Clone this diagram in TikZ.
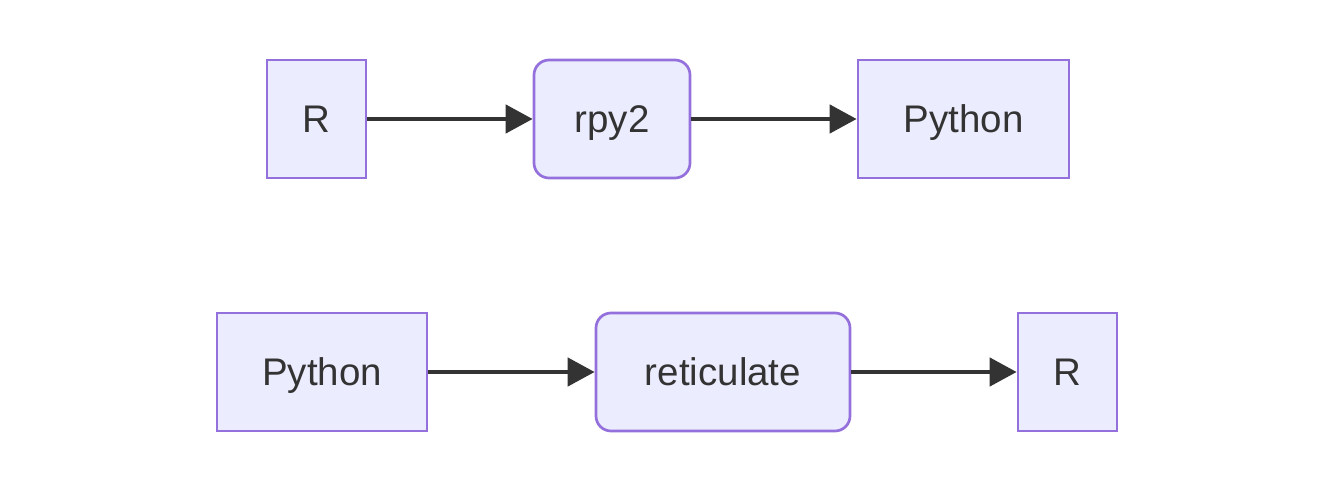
\documentclass[tikz,border=0pt]{standalone}
\usepackage{fontspec}
\setmainfont{Liberation Sans}
\usetikzlibrary{arrows.meta}

\definecolor{nodefill}{HTML}{ECECFF}
\definecolor{nodeline}{HTML}{9370DB}
\definecolor{inkgray}{HTML}{333333}

\begin{document}
\begin{tikzpicture}[x=1pt,y=-1pt,->,>={Triangle[length=27pt,width=28pt]},
                    edgeline/.style={draw=inkgray,line width=4.6pt},
                    plainbox/.style={draw=nodeline,fill=nodefill,line width=2.7pt,
                      minimum height=118pt,inner sep=0pt,text=inkgray,
                      text height=27.5pt,text depth=0pt,
                      font=\fontsize{38.5}{46}\selectfont},
                    roundbox/.style={plainbox,rounded corners=15pt}]
  \useasboundingbox (0,0) rectangle (1317,492);
  % R -> rpy2 -> Python
  \node[plainbox,minimum width=99pt]  (R1)      at (316.5,119) {R};
  \node[roundbox,minimum width=156pt] (rpy)     at (612,119)   {rpy2};
  \node[plainbox,minimum width=211pt] (Py1)     at (963.5,119) {Python};
  % Python -> reticulate -> R
  \node[plainbox,minimum width=210pt] (Py2)     at (322,372)   {Python};
  \node[roundbox,minimum width=254pt] (retic)   at (723,372)   {reticulate};
  \node[plainbox,minimum width=99pt]  (R2)      at (1067.5,372) {R};

  \path (R1)    edge [edgeline] (rpy);
  \path (rpy)   edge [edgeline] (Py1);
  \path (Py2)   edge [edgeline] (retic);
  \path (retic) edge [edgeline] (R2);
\end{tikzpicture}
\end{document}
